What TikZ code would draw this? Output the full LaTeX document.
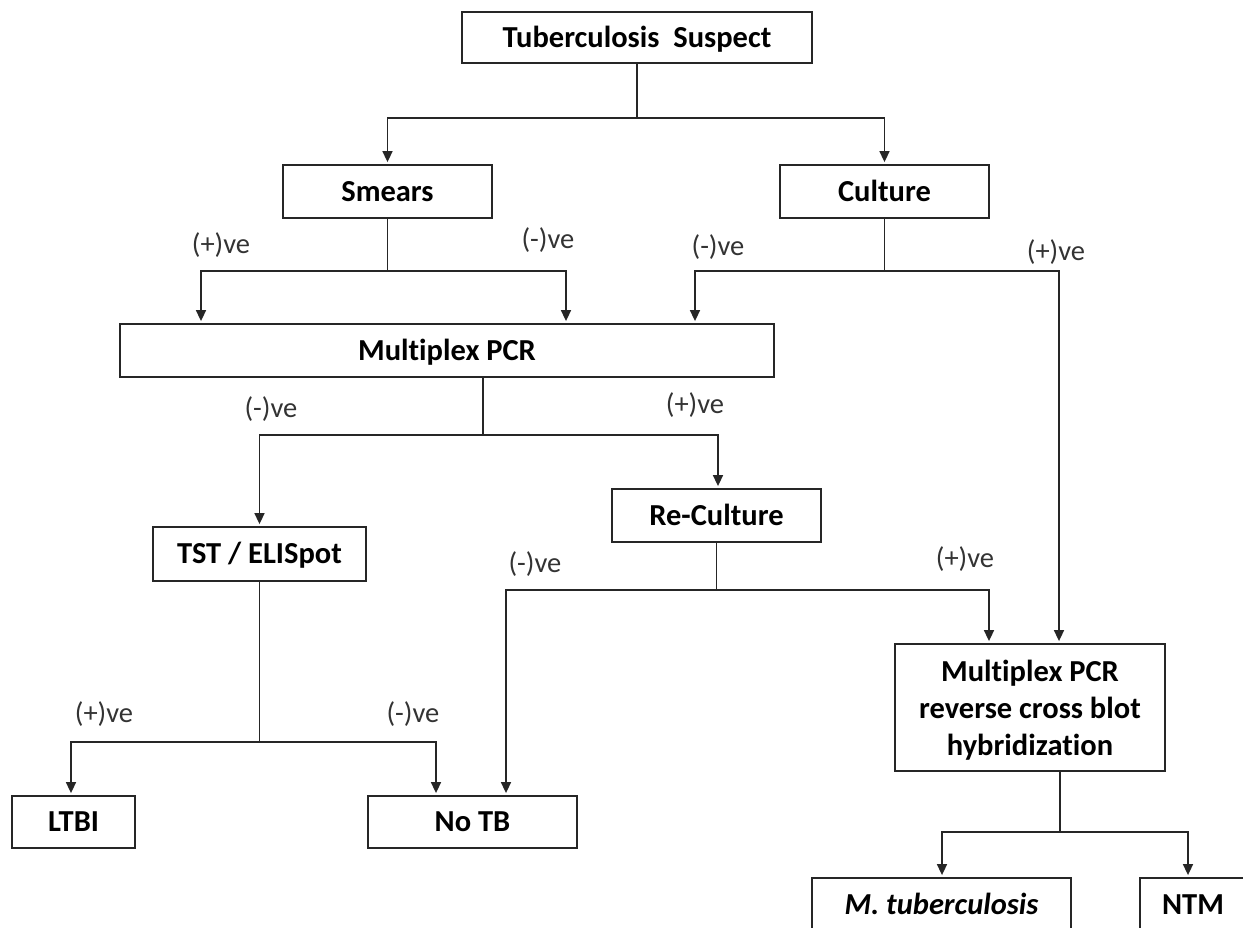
\documentclass[tikz,border=0pt]{standalone}
\usepackage{fontspec}
\setmainfont{Carlito}[Ligatures=NoCommon]
\usetikzlibrary{arrows.meta}

\begin{document}
\begin{tikzpicture}[x=1pt,y=-1pt,
    box/.style={draw=black!85,line width=1.8pt,inner sep=0pt,
        font=\fontsize{30.5}{37}\selectfont\bfseries,text height=25.6pt,text depth=6pt},
    lbl/.style={font=\fontsize{28.5}{34}\selectfont,text=black!80,inner sep=0pt},
    lnk/.style={draw=black!85,line width=1.6pt},
    arr/.style={lnk,-{Triangle[length=11pt,width=10pt]},shorten >=2pt}]
    \useasboundingbox (0,0) rectangle (1243,928);
    \clip (0,0) rectangle (1243,928);

    % boxes
    \node[box,minimum width=350pt,minimum height=51pt] (ts) at (637,37.5) {Tuberculosis~~Suspect};
    \node[box,minimum width=209pt,minimum height=53pt] (smears) at (387.5,191.5) {Smears};
    \node[box,minimum width=209pt,minimum height=53pt] (culture) at (884.5,191.5) {Culture};
    \node[box,minimum width=654pt,minimum height=53pt] (mpcr) at (447,350.5) {Multiplex PCR};
    \node[box,minimum width=213pt,minimum height=54pt] (tst) at (259.5,554) {TST / ELISpot};
    \node[box,minimum width=209pt,minimum height=53pt] (recult) at (716.5,515.5) {Re-Culture};
    \node[box,minimum width=123pt,minimum height=52pt] (ltbi) at (73.5,822) {LTBI};
    \node[box,minimum width=209pt,minimum height=52pt] (notb) at (472.5,822) {No TB};
    \node[box,minimum width=270pt,minimum height=127pt,align=center,text height=,text depth=0pt] (mrcb) at (1030,707.5)
        {Multiplex PCR\\reverse cross blot\\hybridization};
    \node[box,minimum width=259pt,minimum height=53pt] (mtb) at (941.5,904.5) {\itshape M. tuberculosis};
    \node[box,minimum width=106pt,minimum height=53pt] (ntm) at (1193,904.5) {NTM};

    % branch points
    \coordinate (j1) at (637,118);
    \coordinate (j2) at (387.5,271);
    \coordinate (j3) at (884.5,271);
    \coordinate (j4) at (483,435);
    \coordinate (j5) at (716.5,590);
    \coordinate (j6) at (259.5,742);
    \coordinate (j7) at (1060,832);

    % connectors
    \draw[lnk] (ts.south) -- (j1);
    \draw[arr] (j1) -| (smears);
    \draw[arr] (j1) -| (culture);

    \draw[lnk] (smears.south) -- (j2);
    \draw[arr] (j2) -| (201,0 |- mpcr.north);
    \draw[arr] (j2) -| (566,0 |- mpcr.north);

    \draw[lnk] (culture.south) -- (j3);
    \draw[arr] (j3) -| (695,0 |- mpcr.north);
    \draw[arr] (j3) -| (1059,0 |- mrcb.north);

    \draw[lnk] (483,0 |- mpcr.south) -- (j4);
    \draw[arr] (j4) -| (tst);
    \draw[arr] (j4) -| (718,0 |- recult.north);

    \draw[lnk] (recult.south) -- (j5);
    \draw[arr] (j5) -| (506,0 |- notb.north);
    \draw[arr] (j5) -| (989,0 |- mrcb.north);

    \draw[lnk] (tst.south) -- (j6);
    \draw[arr] (j6) -| (71,0 |- ltbi.north);
    \draw[arr] (j6) -| (436,0 |- notb.north);

    \draw[lnk] (1060,0 |- mrcb.south) -- (j7);
    \draw[arr] (j7) -| (942,0 |- mtb.north);
    \draw[arr] (j7) -| (1188,0 |- ntm.north);

    % labels
    \node[lbl] (l1) at (221,245) {(+)ve};
    \node[lbl] (l2) at (548,240) {(-)ve};
    \node[lbl] (l3) at (718,247) {(-)ve};
    \node[lbl] (l4) at (1056,252) {(+)ve};
    \node[lbl] (l5) at (271,409) {(-)ve};
    \node[lbl] (l6) at (695,405) {(+)ve};
    \node[lbl] (l7) at (535,564) {(-)ve};
    \node[lbl] (l8) at (965,559) {(+)ve};
    \node[lbl] (l9) at (104,714) {(+)ve};
    \node[lbl] (l10) at (413,714) {(-)ve};
\end{tikzpicture}
\end{document}
